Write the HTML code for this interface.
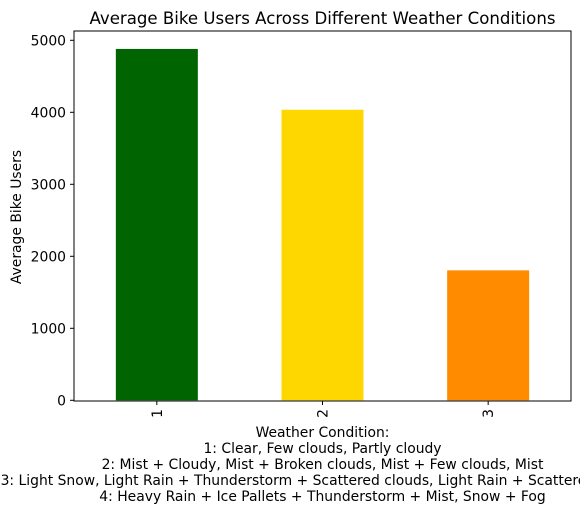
<!DOCTYPE html>
<html><head><meta charset="utf-8"><style>
body{margin:0;background:#fff;}
svg text{font-family:"DejaVu Sans","Liberation Sans",sans-serif;fill:#000;}
</style></head><body>
<svg id="chart" width="580" height="514" xmlns="http://www.w3.org/2000/svg">
<text x="322.5" y="24" font-size="16.6" text-anchor="middle">Average Bike Users Across Different Weather Conditions</text>
<g id="bars"></g>
<g id="yticks"></g>
<g id="xticks"></g>
<rect x="74" y="31" width="497" height="370" fill="none" stroke="#000" stroke-width="1"/>
<text transform="translate(21,217) rotate(-90)" font-size="13.9" text-anchor="middle">Average Bike Users</text>
<g font-size="13.9" text-anchor="middle">
<text x="322.5" y="437">Weather Condition:</text>
<text x="322.5" y="453">1: Clear, Few clouds, Partly cloudy</text>
<text x="322.5" y="469">2: Mist + Cloudy, Mist + Broken clouds, Mist + Few clouds, Mist</text>
<text x="322.5" y="485">3: Light Snow, Light Rain + Thunderstorm + Scattered clouds, Light Rain + Scattered clouds</text>
<text x="322.5" y="501">4: Heavy Rain + Ice Pallets + Thunderstorm + Mist, Snow + Fog</text>
</g>
</svg>
<script>
const categories = ["1","2","3"];
const values = [4880, 4035, 1805];
const colors = ["#006400","#FFD700","#FF8C00"];
const yTicks = [0,1000,2000,3000,4000,5000];
const NS="http://www.w3.org/2000/svg";
const x0=74,x1=571,y0=400.3,pxPer=0.0720;
function yScale(v){return y0-v*pxPer;}
const step=(x1-x0)/categories.length;
function xCenter(i){return x0+step*(i+0.5);}
const bw=82;
const bars=document.getElementById('bars');
categories.forEach((c,i)=>{
  const r=document.createElementNS(NS,'rect');
  
  
  r.setAttribute('x',xCenter(i)-bw/2);
  r.setAttribute('y',yScale(values[i]));
  r.setAttribute('width',bw);
  r.setAttribute('height',y0-yScale(values[i]));
  r.setAttribute('fill',colors[i]);
  bars.appendChild(r);
  const xt=document.getElementById('xticks');
  const l=document.createElementNS(NS,'line');
  
  
  l.setAttribute('x1',xCenter(i));l.setAttribute('x2',xCenter(i));
  l.setAttribute('y1',401);l.setAttribute('y2',405);
  l.setAttribute('stroke','#000');
  xt.appendChild(l);
  const t=document.createElementNS(NS,'text');
  
  
  t.setAttribute('font-size','13.9');
  t.setAttribute('text-anchor','end');
  t.setAttribute('transform','translate('+(xCenter(i)+5)+',409) rotate(-90)');
  t.textContent=c;
  xt.appendChild(t);
});
const yt=document.getElementById('yticks');
yTicks.forEach(v=>{
  const y=yScale(v);
  const l=document.createElementNS(NS,'line');
  
  
  l.setAttribute('x1',70);l.setAttribute('x2',74);
  l.setAttribute('y1',y);l.setAttribute('y2',y);
  l.setAttribute('stroke','#000');
  yt.appendChild(l);
  const t=document.createElementNS(NS,'text');
  
  
  t.setAttribute('font-size','13.9');
  t.setAttribute('text-anchor','end');
  t.setAttribute('x',66);t.setAttribute('y',y+5);
  t.textContent=v;
  yt.appendChild(t);
});
</script>
</body></html>
